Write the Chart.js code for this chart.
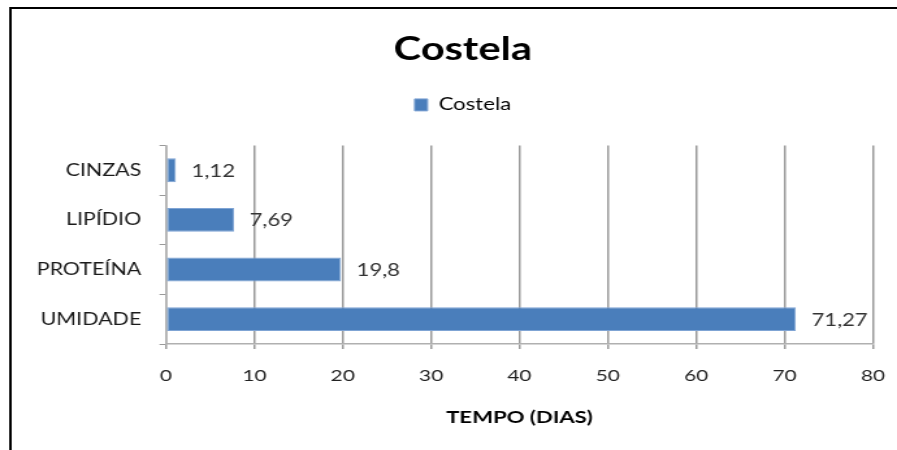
<!DOCTYPE html>
<html>
<head>
<meta charset="utf-8">
<script src="https://cdn.jsdelivr.net/npm/chart.js@4/dist/chart.umd.min.js"></script>
<style>
  html, body { margin: 0; padding: 0; background: #fff; overflow: hidden; }
  /* the chart is laid out on a narrower canvas and widened horizontally */
  #wrap { width: 690px; height: 450px; transform: scaleX(1.3); transform-origin: 0 0; }
</style>
</head>
<body>
<div id="wrap"><canvas id="chart"></canvas></div>
<script>
const categories = ['CINZAS', 'LIPÍDIO', 'PROTEÍNA', 'UMIDADE'];
const costela = [1.12, 7.69, 19.8, 71.27];
const xTickValues = [0, 10, 20, 30, 40, 50, 60, 70, 80];

const FONT = 'Lato, "Open Sans", "DejaVu Sans", sans-serif';

const fmt = v => String(v).replace('.', ',');

// value labels printed to the right of each bar
const barValueLabels = {
  id: 'barValueLabels',
  afterDatasetsDraw(chart) {
    const ctx = chart.ctx;
    const meta = chart.getDatasetMeta(0);
    const data = chart.data.datasets[0].data;
    ctx.save();
    ctx.font = '17px ' + FONT;
    ctx.fillStyle = '#333';
    ctx.textAlign = 'left';
    ctx.textBaseline = 'middle';
    meta.data.forEach((bar, i) => {
      ctx.fillText(fmt(data[i]), bar.x + 12, bar.y + 1);
    });
    ctx.restore();
  }
};

// empty layout box that leaves a gap between the legend and the plot
const legendGap = {
  id: 'legendGap',
  beforeInit(chart) {
    const box = {
      position: 'top',
      weight: 500,
      fullSize: true,
      options: {},
      left: 0, top: 0, right: 0, bottom: 0, width: 0, height: 0,
      isHorizontal() { return true; },
      update(maxWidth) { this.width = maxWidth; this.height = 22; },
      draw() {}
    };
    Chart.layouts.addBox(chart, box);
  }
};

// outer frame around the chart
const frame = {
  id: 'frame',
  afterDraw(chart) {
    const ctx = chart.ctx;
    ctx.save();
    ctx.strokeStyle = '#000';
    ctx.lineWidth = 2;
    ctx.strokeRect(8, 8, chart.width + 20, chart.height + 20);
    ctx.restore();
  }
};

new Chart(document.getElementById('chart'), {
  type: 'bar',
  data: {
    labels: categories,
    datasets: [{
      label: 'Costela',
      data: costela,
      backgroundColor: '#4A7EBB',
      borderColor: '#7FA4D4',
      borderWidth: 1,
      borderSkipped: false,
      barPercentage: 0.48,
      categoryPercentage: 1
    }]
  },
  options: {
    indexAxis: 'y',
    responsive: true,
    maintainAspectRatio: false,
    animation: false,
    layout: { padding: { left: 25, right: 3, top: 0, bottom: 0 } },
    plugins: {
      title: {
        display: true,
        text: 'Costela',
        color: '#000',
        font: { family: FONT, size: 32, weight: 'bold' },
        padding: { top: 30, bottom: 10 }
      },
      legend: {
        display: true,
        position: 'top',
        labels: {
          color: '#000',
          font: { family: FONT, size: 17 },
          boxWidth: 10,
          boxHeight: 12,
          padding: 18
        }
      },
      tooltip: { enabled: false }
    },
    scales: {
      x: {
        min: 0,
        max: 80,
        afterBuildTicks: s => { s.ticks = xTickValues.map(v => ({ value: v })); },
        afterFit: s => { s.height = 106; s.paddingRight = 18.5; s.paddingLeft = 0; },
        grid: {
          color: '#9a9a9a',
          lineWidth: 1.5,
          drawTicks: true,
          tickLength: 5,
          tickColor: '#9a9a9a'
        },
        border: { color: '#b0b0b0', width: 1.5 },
        ticks: {
          color: '#222',
          font: { family: FONT, size: 16 },
          padding: 17
        },
        title: {
          display: true,
          text: 'TEMPO (DIAS)',
          color: '#000',
          font: { family: FONT, size: 17, weight: 'bold' },
          padding: { top: 0, bottom: 22 }
        }
      },
      y: {
        afterFit: s => { s.width = 102.7; },
        grid: {
          drawOnChartArea: false,
          drawTicks: true,
          tickLength: 5,
          tickColor: '#9a9a9a',
          offset: true
        },
        border: { color: '#b0b0b0', width: 1.5 },
        ticks: {
          color: '#1a1a1a',
          font: { family: FONT, size: 16.5 },
          padding: 14
        }
      }
    }
  },
  plugins: [barValueLabels, legendGap, frame]
});
</script>
</body>
</html>
